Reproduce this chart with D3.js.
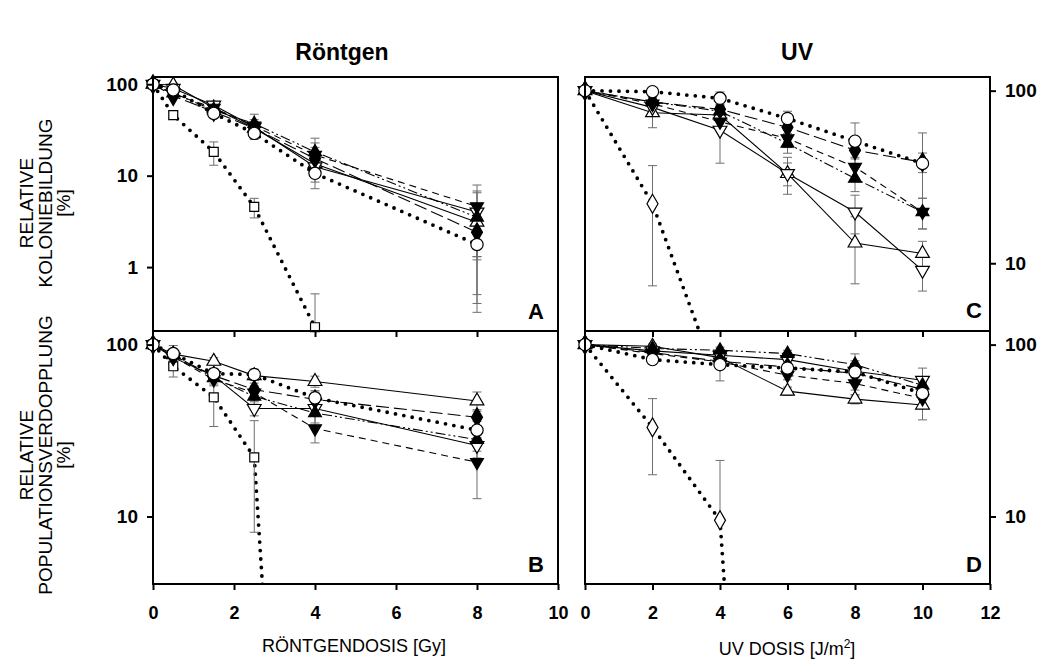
<!DOCTYPE html>
<html>
<head>
<meta charset="utf-8">
<script src="https://cdn.jsdelivr.net/npm/d3@7"></script>
<style>
  body { margin: 0; background: #fff; }
  svg { font-family: "Liberation Sans", Arial, sans-serif; }
</style>
</head>
<body>
<div id="chart"></div>
<script>
// doses
let doseX = [0, 0.5, 1.5, 2.5, 4, 8];
let doseXMut = [0, 0.5, 1.5, 2.5, 4];
let doseUV = [0, 2, 4, 6, 8, 10];
let doseUVMutC = [0, 2, 4];
let doseUVMutD = [0, 2, 4, 6];

let xTicksX = [0, 2, 4, 6, 8, 10];
let xTicksUV = [0, 2, 4, 6, 8, 10, 12];

// A: Röntgen, relative Koloniebildung [%]
let aCircle = [100, 86.6, 48, 29, 10.6, 1.77];
let aCircleErr = [0, 5, 4, 4, 3.4, 1.45];
let aDiamond = [100, 74.5, 50, 33, 15.4, 2.4];
let aDiamondErr = [0, 4, 4, 4, 5, 2];
let aTriUp = [100, 80, 52, 37, 18.2, 3.5];
let aTriUpErr = [0, 5, 5, 10, 7.5, 3];
let aTriDown = [100, 78, 55, 35, 16.8, 4.6];
let aTriDownErr = [0, 5, 4, 6, 6, 3.3];
let aTriUpOpen = [100, 98, 55, 33, 13.5, 3.1];
let aTriUpOpenErr = [0, 4, 5, 5, 4, 1.8];
let aTriDownOpen = [100, 90, 59, 34, 12.5, 4.0];
let aTriDownOpenErr = [0, 4, 4, 5, 4, 2.8];
let aSquare = [100, 46, 18.2, 4.55, 0.22];
let aSquareErr = [0, 4, 5.2, 1.1, 0.29];

// B: Röntgen, relative Populationsverdopplung [%]
let bCircle = [100, 88.7, 67.8, 67, 49, 31.8];
let bCircleErr = [0, 10, 5, 5, 5, 4];
let bDiamond = [100, 86, 66, 54.7, 48, 37.8];
let bDiamondErr = [0, 5, 5, 5, 5, 4];
let bTriUp = [100, 87, 64, 50, 40, 28];
let bTriUpErr = [0, 5, 5, 5, 5, 4];
let bTriDown = [100, 85, 62.6, 52.5, 32.5, 20.7];
let bTriDownErr = [0, 5, 5, 5, 5.7, 8];
let bTriUpOpen = [100, 88, 80, 66, 61, 47];
let bTriUpOpenErr = [0, 5, 4, 4, 4.5, 6];
let bTriDownOpen = [100, 84, 66, 42.5, 42.5, 25.9];
let bTriDownOpenErr = [0, 5, 5, 4, 4, 4];
let bSquare = [100, 74.8, 49.4, 22.1, 0.00007];
let bSquareErr = [0, 10, 16, 14, 0];

// C: UV, relative Koloniebildung [%]
let cCircle = [100, 98.7, 90.3, 69, 51, 37.9];
let cCircleErr = [0, 4, 8, 7, 14, 19];
let cDiamond = [100, 86, 78, 61.3, 45.2, 38.5];
let cDiamondErr = [0, 5, 5, 5, 5, 5];
let cTriUp = [100, 86, 76, 49.4, 31, 19.8];
let cTriUpErr = [0, 5, 5, 6, 5, 4];
let cTriDown = [100, 84, 66, 52.8, 36.1, 19.8];
let cTriDownErr = [0, 5, 5, 6, 5, 4];
let cTriUpOpen = [100, 74.5, 72.3, 33.1, 13.1, 11.4];
let cTriUpOpenErr = [0, 13.5, 6, 8, 5.5, 2];
let cTriDownOpen = [100, 80, 59, 33.1, 19.8, 9.1];
let cTriDownOpenErr = [0, 5, 21, 5, 5, 2.2];
let cDiamondOpen = [100, 22.1, 1.9];
let cDiamondOpenErr = [0, 14.7, 0];

// D: UV, relative Populationsverdopplung [%]
let dCircle = [100, 81.8, 76.5, 73.1, 69.3, 52];
let dCircleErr = [0, 5, 15, 5, 19, 8];
let dDiamond = [100, 90, 80, 74, 68, 55];
let dDiamondErr = [0, 4, 4, 4, 4, 4];
let dTriUp = [100, 95, 92.7, 88.7, 76.5, 58];
let dTriUpErr = [0, 4, 4, 4, 4, 5];
let dTriDown = [100, 88.7, 79.3, 66.4, 59.4, 48.6];
let dTriDownErr = [0, 4, 4, 4, 5, 5];
let dTriUpOpen = [100, 97.8, 84, 53.6, 48.2, 44.5];
let dTriUpOpenErr = [0, 3, 4, 3, 3, 8];
let dTriDownOpen = [100, 92, 86.7, 81.8, 70, 62];
let dTriDownOpenErr = [0, 3, 3, 3, 3, 11];
let dDiamondOpen = [100, 33, 9.5, 0.00002];
let dDiamondOpenErr = [0, 15.5, 11.7, 0];

let width = 1043,
  height = 670;

let svg = d3
  .select("#chart")
  .append("svg")
  .attr("width", width)
  .attr("height", height);

let dashes = {
  solid: null,
  dot: "0 8.5",
  long: "13 5",
  dash: "7 5",
  dashdot: "10 3 2 3 2 3",
};

function series(dose, vals, errs, sym, style) {
  return { dose: dose, vals: vals, errs: errs, sym: sym, style: style };
}

let panels = [
  {
    letter: "A", xr: [153, 558], yr: [77, 331], xMax: 10, yDomain: [0.2, 120],
    yTicks: [1, 10, 100], side: "left", letterX: 544, letterY: 319,
    series: [
      series(doseXMut, aSquare, aSquareErr, "square", "dot"),
      series(doseX, aTriUpOpen, aTriUpOpenErr, "triUpOpen", "solid"),
      series(doseX, aTriDownOpen, aTriDownOpenErr, "triDownOpen", "solid"),
      series(doseX, aDiamond, aDiamondErr, "diamond", "long"),
      series(doseX, aTriUp, aTriUpErr, "triUp", "dashdot"),
      series(doseX, aTriDown, aTriDownErr, "triDown", "dash"),
      series(doseX, aCircle, aCircleErr, "circle", "dot"),
    ],
  },
  {
    letter: "B", xr: [153, 558], yr: [331, 584], xMax: 10, yDomain: [4.05, 120],
    yTicks: [10, 100], side: "left", letterX: 544, letterY: 572,
    topTicks: [2, 4, 6, 8], bottomTicks: xTicksX,
    series: [
      series(doseXMut, bSquare, bSquareErr, "square", "dot"),
      series(doseX, bTriUpOpen, bTriUpOpenErr, "triUpOpen", "solid"),
      series(doseX, bTriDownOpen, bTriDownOpenErr, "triDownOpen", "solid"),
      series(doseX, bDiamond, bDiamondErr, "diamond", "long"),
      series(doseX, bTriUp, bTriUpErr, "triUp", "dashdot"),
      series(doseX, bTriDown, bTriDownErr, "triDown", "dash"),
      series(doseX, bCircle, bCircleErr, "circle", "dot"),
    ],
  },
  {
    letter: "C", xr: [585, 990], yr: [77, 331], xMax: 12, yDomain: [4.05, 120],
    yTicks: [10, 100], side: "right", letterX: 982, letterY: 318,
    series: [
      series(doseUVMutC, cDiamondOpen, cDiamondOpenErr, "diamondOpen", "dot"),
      series(doseUV, cTriUpOpen, cTriUpOpenErr, "triUpOpen", "solid"),
      series(doseUV, cTriDownOpen, cTriDownOpenErr, "triDownOpen", "solid"),
      series(doseUV, cDiamond, cDiamondErr, "diamond", "long"),
      series(doseUV, cTriUp, cTriUpErr, "triUp", "dashdot"),
      series(doseUV, cTriDown, cTriDownErr, "triDown", "dash"),
      series(doseUV, cCircle, cCircleErr, "circle", "dot"),
    ],
  },
  {
    letter: "D", xr: [585, 990], yr: [331, 584], xMax: 12, yDomain: [4.05, 120],
    yTicks: [10, 100], side: "right", letterX: 982, letterY: 572,
    topTicks: [2, 4, 6, 8, 10], bottomTicks: xTicksUV,
    series: [
      series(doseUVMutD, dDiamondOpen, dDiamondOpenErr, "diamondOpen", "dot"),
      series(doseUV, dTriUpOpen, dTriUpOpenErr, "triUpOpen", "solid"),
      series(doseUV, dTriDownOpen, dTriDownOpenErr, "triDownOpen", "solid"),
      series(doseUV, dDiamond, dDiamondErr, "diamond", "long"),
      series(doseUV, dTriUp, dTriUpErr, "triUp", "dashdot"),
      series(doseUV, dTriDown, dTriDownErr, "triDown", "dash"),
      series(doseUV, dCircle, dCircleErr, "circle", "dot"),
    ],
  },
];

let symbols = {
  circle: { type: d3.symbolCircle, size: 118, fill: "#fff", rot: 0 },
  square: { type: d3.symbolSquare, size: 80, fill: "#fff", rot: 0 },
  diamond: { type: d3.symbolDiamond, size: 105, fill: "#000", rot: 0 },
  diamondOpen: { type: d3.symbolDiamond, size: 105, fill: "#fff", rot: 0 },
  triUp: { type: d3.symbolTriangle, size: 72, fill: "#000", rot: 0 },
  triDown: { type: d3.symbolTriangle, size: 72, fill: "#000", rot: 180 },
  triUpOpen: { type: d3.symbolTriangle, size: 82, fill: "#fff", rot: 0 },
  triDownOpen: { type: d3.symbolTriangle, size: 82, fill: "#fff", rot: 180 },
};

panels.forEach(function (p, pi) {
  let x = d3.scaleLinear().domain([0, p.xMax]).range(p.xr);
  let y = d3.scaleLog().domain(p.yDomain).range([p.yr[1], p.yr[0]]);
  let lo = p.yDomain[0];

  svg
    .append("clipPath")
    .attr("id", "clip" + pi)
    .append("rect")
    .attr("x", p.xr[0] - 8)
    .attr("y", p.yr[0] - 8)
    .attr("width", p.xr[1] - p.xr[0] + 16)
    .attr("height", p.yr[1] - p.yr[0] + 8);

  let g = svg.append("g").attr("clip-path", "url(#clip" + pi + ")");

  let pts = p.series.map((s) =>
    s.dose.map((d, i) => ({ d: d, v: s.vals[i], e: s.errs[i] }))
  );

  let line = d3
    .line()
    .x((d) => x(d.d))
    .y((d) => y(d.v));

  // lines
  p.series.forEach(function (s, si) {
    g.append("path")
      .datum(pts[si])
      .attr("d", line)
      .attr("fill", "none")
      .attr("stroke", "#000")
      .attr("stroke-width", s.style == "dot" ? 3.8 : 1.1)
      .attr("stroke-linecap", s.style == "dot" ? "round" : "butt")
      .attr("stroke-dasharray", dashes[s.style]);
  });

  // error bars
  p.series.forEach(function (s, si) {
    pts[si]
      .filter((d) => d.e > 0 && d.v >= lo)
      .forEach(function (d) {
        let cx = x(d.d);
        let top = y(d.v + d.e);
        let bot = d.v - d.e > 0 ? y(d.v - d.e) : y(d.v);
        let eb = g.append("g").attr("stroke", "#6e6e6e").attr("stroke-width", 1);
        eb.append("line").attr("x1", cx).attr("x2", cx).attr("y1", top).attr("y2", bot);
        eb.append("line").attr("x1", cx - 4.5).attr("x2", cx + 4.5).attr("y1", top).attr("y2", top);
        if (d.v - d.e > 0) {
          eb.append("line").attr("x1", cx - 4.5).attr("x2", cx + 4.5).attr("y1", bot).attr("y2", bot);
        }
      });
  });

  // markers
  p.series.forEach(function (s, si) {
    let sym = symbols[s.sym];
    svg
      .append("g")
      .selectAll("path")
      .data(pts[si].filter((d) => d.v >= lo * 0.9))
      .enter()
      .append("path")
      .attr("d", d3.symbol(sym.type, sym.size))
      .attr(
        "transform",
        (d) => "translate(" + x(d.d) + "," + y(d.v) + ") rotate(" + sym.rot + ")"
      )
      .attr("fill", sym.fill)
      .attr("stroke", "#000")
      .attr("stroke-width", 1.2);
  });

  // frame
  svg
    .append("rect")
    .attr("x", p.xr[0])
    .attr("y", p.yr[0])
    .attr("width", p.xr[1] - p.xr[0])
    .attr("height", p.yr[1] - p.yr[0])
    .attr("fill", "none")
    .attr("stroke", "#000")
    .attr("stroke-width", 2);

  // y axis
  let yAxis = (p.side == "left" ? d3.axisLeft(y) : d3.axisRight(y))
    .tickValues(p.yTicks)
    .tickFormat(d3.format("d"))
    .tickSize(6)
    .tickPadding(9)
    .tickSizeOuter(0);
  let ya = svg
    .append("g")
    .attr("transform", "translate(" + (p.side == "left" ? p.xr[0] : p.xr[1]) + ",0)")
    .call(yAxis);
  ya.select(".domain").remove();
  ya.selectAll("line").attr("stroke-width", 2);
  ya.selectAll("text")
    .attr("font-size", 19)
    .attr("font-weight", "bold")
    .attr("font-family", "Liberation Sans, Arial, sans-serif")
    .attr("fill", "#000");

  // inner ticks on the shared border
  if (p.topTicks) {
    let ta = svg
      .append("g")
      .attr("transform", "translate(0," + p.yr[0] + ")")
      .call(d3.axisBottom(x).tickValues(p.topTicks).tickFormat("").tickSize(6).tickSizeOuter(0));
    ta.select(".domain").remove();
    ta.selectAll("line").attr("stroke-width", 2);
  }

  // x axis
  if (p.bottomTicks) {
    let xa = svg
      .append("g")
      .attr("transform", "translate(0," + p.yr[1] + ")")
      .call(
        d3.axisBottom(x)
          .tickValues(p.bottomTicks)
          .tickFormat(d3.format("d"))
          .tickSize(6)
          .tickPadding(16)
          .tickSizeOuter(0)
      );
    xa.select(".domain").remove();
    xa.selectAll("line").attr("stroke-width", 2);
    xa.selectAll("text")
      .attr("font-size", 18)
      .attr("font-weight", "bold")
      .attr("font-family", "Liberation Sans, Arial, sans-serif")
      .attr("fill", "#000");
  }

  svg
    .append("text")
    .attr("x", p.letterX)
    .attr("y", p.letterY)
    .attr("text-anchor", "end")
    .attr("font-size", 22)
    .attr("font-weight", "bold")
    .text(p.letter);
});

// titles
svg.append("text").attr("x", 342).attr("y", 60).attr("text-anchor", "middle")
  .attr("font-size", 23).attr("font-weight", "bold").text("Röntgen");
svg.append("text").attr("x", 797).attr("y", 60).attr("text-anchor", "middle")
  .attr("font-size", 23).attr("font-weight", "bold").text("UV");

// x axis titles
svg.append("text").attr("x", 354).attr("y", 652).attr("text-anchor", "middle")
  .attr("font-size", 18).text("RÖNTGENDOSIS [Gy]");
let uvTitle = svg.append("text").attr("x", 787).attr("y", 655).attr("text-anchor", "middle")
  .attr("font-size", 18);
uvTitle.append("tspan").text("UV DOSIS [J/m");
uvTitle.append("tspan").attr("dy", -7).attr("font-size", 12).text("2");
uvTitle.append("tspan").attr("dy", 7).text("]");

// y axis titles
let yLabels = [
  { cy: 203, lines: ["RELATIVE", "KOLONIEBILDUNG", "[%]"] },
  { cy: 455, lines: ["RELATIVE", "POPULATIONSVERDOPPLUNG", "[%]"] },
];
let lineX = [33, 52, 70];
yLabels.forEach(function (l) {
  l.lines.forEach(function (t, i) {
    svg
      .append("text")
      .attr("transform", "translate(" + lineX[i] + "," + l.cy + ") rotate(-90)")
      .attr("text-anchor", "middle")
      .attr("font-size", 19)
      .text(t);
  });
});
</script>
</body>
</html>
